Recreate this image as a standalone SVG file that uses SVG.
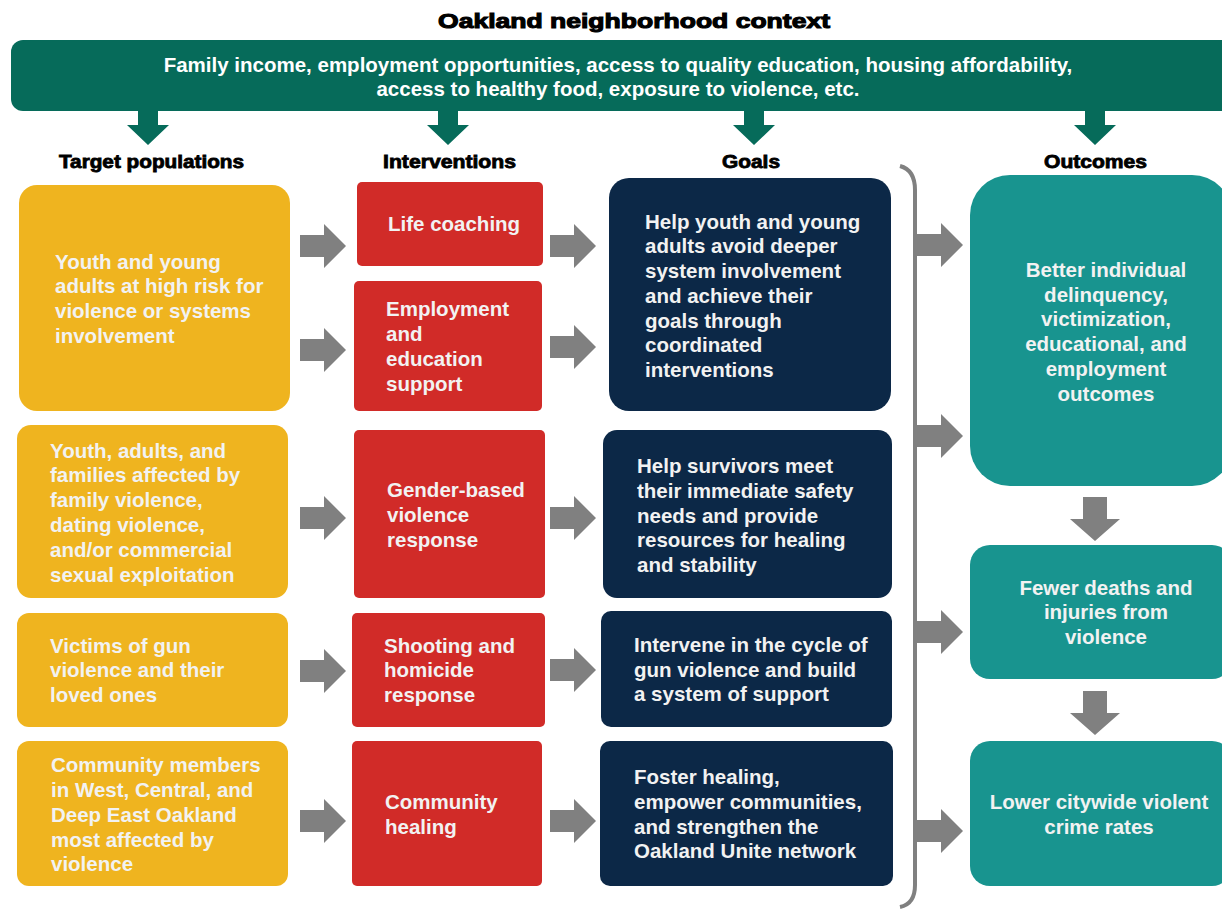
<svg xmlns="http://www.w3.org/2000/svg" width="1222" height="909" viewBox="0 0 1222 909">
<style>
text{font-family:"Liberation Sans",Arial,sans-serif;font-weight:bold}
.title{font-size:21px;fill:#000;stroke:#000;stroke-width:1.1}
.hdr{font-size:18px;fill:#000;stroke:#000;stroke-width:0.8}
.ban{font-size:20.5px;fill:#fff}
.t{font-size:20.5px;fill:#F2F2F2}
.tc{font-size:20.5px;fill:#F2F2F2;text-anchor:middle}
.yel{fill:#EFB41F}
.red{fill:#D12B28}
.navy{fill:#0C2847}
.teal{fill:#18948F}
.ga{fill:#808080}
.gr{fill:#066B5A}
</style>
<defs>
<path id="ar" d="M0,-11 H24 V-22 L46,0 L24,22 V11 H0 Z"/>
<path id="ad" d="M-12,0 H12 V22 H25 L0,44 L-25,22 H-12 Z"/>
<path id="ag" d="M-10,0 H10 V14 H21 L0,34 L-21,14 H-10 Z"/>
</defs>

<text class="title" x="438" y="28" textLength="392" lengthAdjust="spacingAndGlyphs">Oakland neighborhood context</text>

<g id="context">
<rect class="gr" x="11" y="40" width="1222" height="71" rx="12"/>
<text class="ban" x="618" y="72" text-anchor="middle">Family income, employment opportunities, access to quality education, housing affordability,</text>
<text class="ban" x="618" y="96" text-anchor="middle">access to healthy food, exposure to violence, etc.</text>
</g>

<g id="headers">
<text class="hdr" x="59" y="168" textLength="185" lengthAdjust="spacingAndGlyphs">Target populations</text>
<text class="hdr" x="383" y="168" textLength="133" lengthAdjust="spacingAndGlyphs">Interventions</text>
<text class="hdr" x="722" y="168" textLength="58" lengthAdjust="spacingAndGlyphs">Goals</text>
<text class="hdr" x="1044" y="168" textLength="103" lengthAdjust="spacingAndGlyphs">Outcomes</text>
</g>

<g id="pop1"><rect class="yel" x="19" y="185" width="271" height="226" rx="18"/>
<text class="t" x="55" y="269">Youth and young</text>
<text class="t" x="55" y="293">adults at high risk for</text>
<text class="t" x="55" y="318">violence or systems</text>
<text class="t" x="55" y="343">involvement</text></g>
<g id="pop2"><rect class="yel" x="17" y="425" width="271" height="173" rx="14"/>
<text class="t" x="50" y="458">Youth, adults, and</text>
<text class="t" x="50" y="482">families affected by</text>
<text class="t" x="50" y="507">family violence,</text>
<text class="t" x="50" y="532">dating violence,</text>
<text class="t" x="50" y="557">and/or commercial</text>
<text class="t" x="50" y="582">sexual exploitation</text></g>
<g id="pop3"><rect class="yel" x="17" y="613" width="271" height="114" rx="12"/>
<text class="t" x="50" y="653">Victims of gun</text>
<text class="t" x="50" y="677">violence and their</text>
<text class="t" x="50" y="702">loved ones</text></g>
<g id="pop4"><rect class="yel" x="17" y="741" width="271" height="145" rx="12"/>
<text class="t" x="51" y="772">Community members</text>
<text class="t" x="51" y="797">in West, Central, and</text>
<text class="t" x="51" y="822">Deep East Oakland</text>
<text class="t" x="51" y="847">most affected by</text>
<text class="t" x="51" y="871">violence</text></g>

<g id="int1"><rect class="red" x="357" y="182" width="186" height="84" rx="5"/>
<text class="t" x="388" y="231">Life coaching</text></g>
<g id="int2"><rect class="red" x="354" y="281" width="188" height="130" rx="5"/>
<text class="t" x="386" y="316">Employment</text>
<text class="t" x="386" y="341">and</text>
<text class="t" x="386" y="366">education</text>
<text class="t" x="386" y="391">support</text></g>
<g id="int3"><rect class="red" x="354" y="430" width="191" height="168" rx="5"/>
<text class="t" x="387" y="497">Gender-based</text>
<text class="t" x="387" y="522">violence</text>
<text class="t" x="387" y="547">response</text></g>
<g id="int4"><rect class="red" x="352" y="613" width="193" height="114" rx="5"/>
<text class="t" x="384" y="653">Shooting and</text>
<text class="t" x="384" y="677">homicide</text>
<text class="t" x="384" y="702">response</text></g>
<g id="int5"><rect class="red" x="352" y="741" width="190" height="145" rx="5"/>
<text class="t" x="385" y="809">Community</text>
<text class="t" x="385" y="834">healing</text></g>

<g id="goal1"><rect class="navy" x="609" y="178" width="282" height="233" rx="20"/>
<text class="t" x="645" y="229">Help youth and young</text>
<text class="t" x="645" y="253">adults avoid deeper</text>
<text class="t" x="645" y="278">system involvement</text>
<text class="t" x="645" y="303">and achieve their</text>
<text class="t" x="645" y="328">goals through</text>
<text class="t" x="645" y="352">coordinated</text>
<text class="t" x="645" y="377">interventions</text></g>
<g id="goal2"><rect class="navy" x="603" y="430" width="289" height="168" rx="14"/>
<text class="t" x="637" y="473">Help survivors meet</text>
<text class="t" x="637" y="498">their immediate safety</text>
<text class="t" x="637" y="523">needs and provide</text>
<text class="t" x="637" y="547">resources for healing</text>
<text class="t" x="637" y="572">and stability</text></g>
<g id="goal3"><rect class="navy" x="601" y="611" width="291" height="116" rx="10"/>
<text class="t" x="634" y="652">Intervene in the cycle of</text>
<text class="t" x="634" y="677">gun violence and build</text>
<text class="t" x="634" y="701">a system of support</text></g>
<g id="goal4"><rect class="navy" x="600" y="741" width="293" height="145" rx="10"/>
<text class="t" x="634" y="784">Foster healing,</text>
<text class="t" x="634" y="809">empower communities,</text>
<text class="t" x="634" y="834">and strengthen the</text>
<text class="t" x="634" y="858">Oakland Unite network</text></g>

<g id="out1"><rect class="teal" x="970" y="175" width="262" height="311" rx="40"/>
<text class="tc" x="1106" y="277">Better individual</text>
<text class="tc" x="1106" y="302">delinquency,</text>
<text class="tc" x="1106" y="326">victimization,</text>
<text class="tc" x="1106" y="351">educational, and</text>
<text class="tc" x="1106" y="376">employment</text>
<text class="tc" x="1106" y="401">outcomes</text></g>
<g id="out2"><rect class="teal" x="970" y="545" width="262" height="134" rx="20"/>
<text class="tc" x="1106" y="595">Fewer deaths and</text>
<text class="tc" x="1106" y="619">injuries from</text>
<text class="tc" x="1106" y="644">violence</text></g>
<g id="out3"><rect class="teal" x="970" y="741" width="262" height="145" rx="20"/>
<text class="tc" x="1099" y="809">Lower citywide violent</text>
<text class="tc" x="1099" y="834">crime rates</text></g>

<g id="connectors">
<use href="#ag" class="gr" x="148" y="111"/>
<use href="#ag" class="gr" x="448" y="111"/>
<use href="#ag" class="gr" x="754" y="111"/>
<use href="#ag" class="gr" x="1095" y="111"/>
<use href="#ar" class="ga" x="300" y="246"/>
<use href="#ar" class="ga" x="300" y="350"/>
<use href="#ar" class="ga" x="300" y="518"/>
<use href="#ar" class="ga" x="300" y="671"/>
<use href="#ar" class="ga" x="300" y="821"/>
<use href="#ar" class="ga" x="550" y="246"/>
<use href="#ar" class="ga" x="550" y="347"/>
<use href="#ar" class="ga" x="550" y="518"/>
<use href="#ar" class="ga" x="550" y="670"/>
<use href="#ar" class="ga" x="550" y="821"/>
<path d="M900,166 Q915,170 915,190 V885 Q915,904 900,907" fill="none" stroke="#808080" stroke-width="4"/>
<use href="#ar" class="ga" x="917" y="245"/>
<use href="#ar" class="ga" x="917" y="436"/>
<use href="#ar" class="ga" x="917" y="632"/>
<use href="#ar" class="ga" x="917" y="831"/>
<use href="#ad" class="ga" x="1095" y="497"/>
<use href="#ad" class="ga" x="1095" y="691"/>
</g>
</svg>
